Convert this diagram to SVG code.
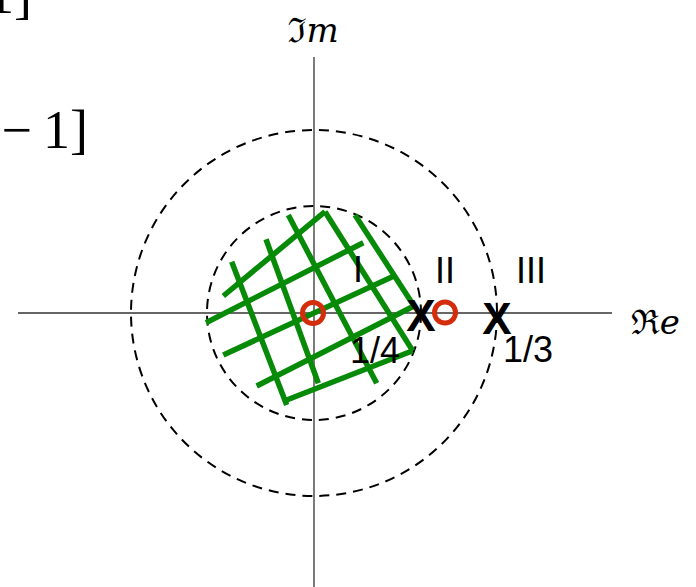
<svg xmlns="http://www.w3.org/2000/svg" width="696" height="587" viewBox="0 0 696 587">
<style>
.axis{stroke:#333;stroke-width:1.3;fill:none}
.dash{stroke:#000;stroke-width:2;fill:none;stroke-dasharray:10 7}
.grid{stroke:#078a07;stroke-width:5.5;stroke-linecap:butt;fill:none}
.zero{stroke:#d42d0c;stroke-width:5;fill:none}
.lbl{font-family:"Liberation Sans",Arial,sans-serif;font-size:36px;fill:#000}
.pole{font-family:"Liberation Sans",Arial,sans-serif;font-size:44px;font-weight:bold;fill:#000;text-anchor:middle}
.tex{font-family:"Liberation Serif","Times New Roman",serif;font-size:54px;fill:#000}
.frak{font-family:"DejaVu Serif","Noto Sans",serif;font-size:34px;fill:#000;font-style:italic}
</style>
<rect width="696" height="587" fill="#fff"/>
<g id="formula">
<text class="tex" x="-13" y="13">1]</text>
<text class="tex" x="32" y="148" text-anchor="end">−</text>
<text class="tex" x="43" y="148">1]</text>
</g>
<g id="axes">
<line class="axis" x1="18" y1="313" x2="612" y2="313"/>
<line class="axis" x1="314" y1="57" x2="314" y2="587"/>
<text class="frak" x="313" y="42" text-anchor="middle">ℑm</text>
<text class="frak" x="631" y="334">ℜe</text>
</g>
<g id="circles">
<circle class="dash" cx="314" cy="313" r="183"/>
<circle class="dash" cx="314" cy="313" r="107"/>
</g>
<g id="region">
<line class="grid" x1="223.3" y1="296" x2="325" y2="211.7"/>
<line class="grid" x1="206" y1="322.7" x2="363.3" y2="242.7"/>
<line class="grid" x1="223.3" y1="355" x2="394" y2="276"/>
<line class="grid" x1="256.7" y1="386" x2="414" y2="306"/>
<line class="grid" x1="286.7" y1="400" x2="412.7" y2="350.7"/>
<line class="grid" x1="231.7" y1="261.7" x2="286.7" y2="405"/>
<line class="grid" x1="266" y1="239.3" x2="318.3" y2="383.3"/>
<line class="grid" x1="288.3" y1="215" x2="376.7" y2="383.3"/>
<line class="grid" x1="325" y1="211.7" x2="412.7" y2="350.7"/>
<line class="grid" x1="355" y1="215" x2="414" y2="306"/>
</g>
<g id="zeros">
<circle class="zero" cx="313" cy="313" r="10.5"/>
<circle class="zero" cx="445" cy="312.5" r="10.5"/>
</g>
<g id="poles">
<text class="pole" x="421" y="331">X</text>
<text class="pole" x="497" y="334">X</text>
</g>
<g id="labels">
<text class="lbl" x="358" y="282" text-anchor="middle">I</text>
<text class="lbl" x="445" y="283" text-anchor="middle">II</text>
<text class="lbl" x="531" y="283" text-anchor="middle">III</text>
<text class="lbl" x="375" y="363" text-anchor="middle">1/4</text>
<text class="lbl" x="528" y="362" text-anchor="middle">1/3</text>
</g>
</svg>
